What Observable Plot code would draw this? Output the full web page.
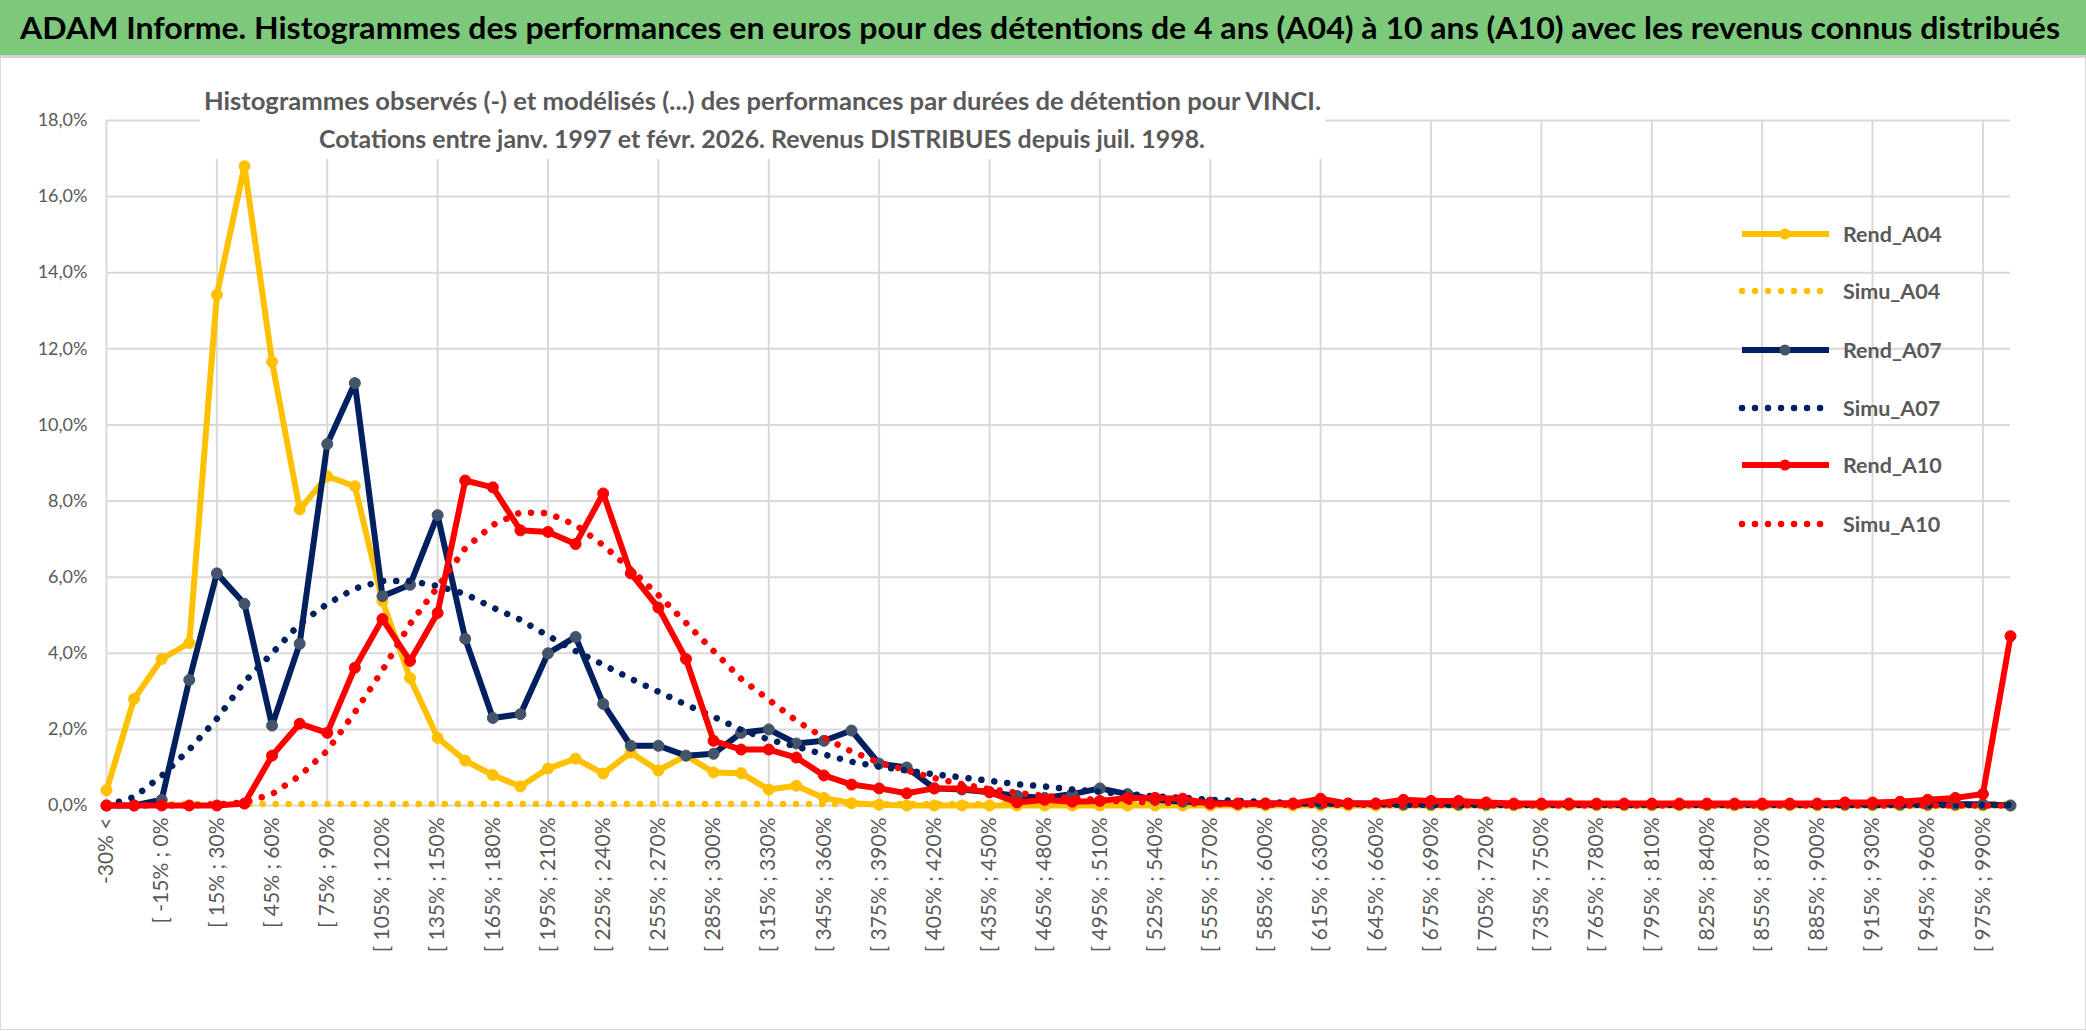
<!DOCTYPE html>
<html><head><meta charset="utf-8">
<script src="https://cdn.jsdelivr.net/npm/d3@7"></script>
<script src="https://cdn.jsdelivr.net/npm/@observablehq/plot@0.6"></script>
<style>
html,body{margin:0;padding:0;background:#fff;}
#wrap{position:relative;width:2086px;height:1031px;overflow:hidden;font-family:Lato,"Open Sans",sans-serif;background:#fff;}
#title{position:absolute;left:0;top:0;width:2086px;height:55px;background:#7dc97c;border-bottom:3px solid #d4d4d4;}
.fit{position:absolute;white-space:nowrap;display:inline-block;transform-origin:left center;line-height:1;}
#t1{left:20px;top:12px;font-size:30px;font-weight:bold;color:#000;}
#subbox{position:absolute;left:200px;top:80px;width:1125px;height:79px;background:#fff;}
#s1{font-size:25px;font-weight:bold;color:#595959;}
#s2{font-size:25px;font-weight:bold;color:#595959;}
#chart{position:absolute;left:0;top:58px;}
#frame{position:absolute;left:0;top:58px;width:2084px;height:971px;border:1px solid #d9d9d9;border-top:none;pointer-events:none;}
#legend{position:absolute;left:0;top:0;pointer-events:none;}
</style>
</head><body>
<div id="wrap">
  <div id="chart"></div>
  <div id="frame"></div>
  <div id="title"><span id="t1" class="fit" data-w="2040">ADAM Informe. Histogrammes des performances en euros pour des détentions de 4 ans (A04) à 10 ans (A10) avec les revenus connus distribués</span></div>
  <div id="subbox">
    <span id="s1" class="fit" data-w="1117" data-cx="562" data-cy="20">Histogrammes observés (-) et modélisés (...) des performances par durées de détention pour VINCI.</span>
    <span id="s2" class="fit" data-w="886" data-cx="562" data-cy="58">Cotations entre janv. 1997 et févr. 2026. Revenus DISTRIBUES depuis juil. 1998.</span>
  </div>
  <svg id="legend" width="2086" height="1031"></svg>
</div>
<script>
const categories = ["-30% <","[ -30% ; -15%","[ -15% ; 0%","[ 0% ; 15%","[ 15% ; 30%","[ 30% ; 45%","[ 45% ; 60%","[ 60% ; 75%","[ 75% ; 90%","[ 90% ; 105%",
"[ 105% ; 120%","[ 120% ; 135%","[ 135% ; 150%","[ 150% ; 165%","[ 165% ; 180%","[ 180% ; 195%","[ 195% ; 210%","[ 210% ; 225%","[ 225% ; 240%","[ 240% ; 255%",
"[ 255% ; 270%","[ 270% ; 285%","[ 285% ; 300%","[ 300% ; 315%","[ 315% ; 330%","[ 330% ; 345%","[ 345% ; 360%","[ 360% ; 375%","[ 375% ; 390%","[ 390% ; 405%",
"[ 405% ; 420%","[ 420% ; 435%","[ 435% ; 450%","[ 450% ; 465%","[ 465% ; 480%","[ 480% ; 495%","[ 495% ; 510%","[ 510% ; 525%","[ 525% ; 540%","[ 540% ; 555%",
"[ 555% ; 570%","[ 570% ; 585%","[ 585% ; 600%","[ 600% ; 615%","[ 615% ; 630%","[ 630% ; 645%","[ 645% ; 660%","[ 660% ; 675%","[ 675% ; 690%","[ 690% ; 705%",
"[ 705% ; 720%","[ 720% ; 735%","[ 735% ; 750%","[ 750% ; 765%","[ 765% ; 780%","[ 780% ; 795%","[ 795% ; 810%","[ 810% ; 825%","[ 825% ; 840%","[ 840% ; 855%",
"[ 855% ; 870%","[ 870% ; 885%","[ 885% ; 900%","[ 900% ; 915%","[ 915% ; 930%","[ 930% ; 945%","[ 945% ; 960%","[ 960% ; 975%","[ 975% ; 990%","990% >"];

const rendA04 = [0.4,2.8,3.85,4.27,13.42,16.8,11.66,7.78,8.65,8.39,
5.37,3.35,1.78,1.18,0.8,0.5,0.97,1.23,0.84,1.39,
0.92,1.31,0.87,0.85,0.42,0.52,0.2,0.06,0.02,0,
0,0,0,0,0,0,0,0,0,0,
0,0,0,0,0,0,0,0,0,0,
0,0,0,0,0,0,0,0,0,0,
0,0,0,0,0,0,0,0,0,0];
const simuA04 = [0.04,0.04,0.04,0.04,0.04,0.04,0.04,0.04,0.04,0.04,
0.04,0.04,0.04,0.04,0.04,0.04,0.04,0.04,0.04,0.04,
0.04,0.04,0.04,0.04,0.04,0.04,0.04,0.04,0.04,0.04,
0.04,0.04,0.04,0.04,0.04,0.04,0.04,0.04,0.04,0.04,
0.04,0.04,0.04,0.04,0.04,0.04,0.04,0.04,0.04,0.04,
0.04,0.04,0.04,0.04,0.04,0.04,0.04,0.04,0.04,0.04,
0.04,0.04,0.04,0.04,0.04,0.04,0.04,0.04,0.04,0.04];
const rendA07 = [0,0,0.15,3.3,6.1,5.3,2.1,4.25,9.5,11.1,
5.5,5.8,7.63,4.38,2.3,2.4,4.0,4.43,2.67,1.57,
1.57,1.31,1.36,1.91,2.0,1.63,1.7,1.97,1.1,1.0,
0.45,0.42,0.35,0.25,0.2,0.3,0.45,0.3,0.15,0.1,
0.08,0.05,0.05,0.05,0.05,0.05,0.05,0.03,0.03,0.03,
0.03,0.03,0.03,0.03,0.03,0.03,0.03,0.03,0.03,0.03,
0.03,0.03,0.03,0.03,0.03,0.03,0.03,0.03,0.03,0];
const simuA07 = [0,0.22,0.78,1.47,2.28,3.25,4.0,4.77,5.3,5.7,
5.9,5.9,5.77,5.56,5.2,4.88,4.46,4.06,3.7,3.33,
2.99,2.65,2.33,1.99,1.73,1.55,1.34,1.15,1.02,0.92,
0.82,0.74,0.65,0.56,0.5,0.42,0.36,0.3,0.24,0.2,
0.15,0.12,0.09,0.07,0.05,0.04,0.03,0.02,0.02,0.01,
0.01,0.01,0.01,0.01,0.01,0.01,0.01,0.01,0.01,0.01,
0.01,0.01,0.01,0.01,0.01,0.01,0.01,0.01,0.01,0.01];
const rendA10 = [0,0,0,0,0,0.05,1.31,2.15,1.91,3.62,
4.9,3.8,5.06,8.54,8.36,7.23,7.19,6.87,8.2,6.1,
5.2,3.85,1.7,1.47,1.47,1.26,0.79,0.55,0.45,0.32,
0.45,0.45,0.35,0.08,0.15,0.1,0.12,0.2,0.2,0.18,
0.05,0.05,0.05,0.05,0.18,0.05,0.05,0.15,0.12,0.12,
0.08,0.05,0.05,0.05,0.05,0.05,0.05,0.05,0.05,0.05,
0.05,0.05,0.05,0.08,0.08,0.1,0.15,0.2,0.3,4.45];
const simuA10 = [0,0,0,0,0.03,0.08,0.3,0.78,1.44,2.45,
3.55,4.77,5.74,6.76,7.37,7.7,7.68,7.37,6.84,6.2,
5.53,4.8,4.06,3.33,2.78,2.23,1.78,1.42,1.13,0.92,
0.72,0.56,0.43,0.33,0.25,0.19,0.14,0.1,0.08,0.06,
0.04,0.03,0.02,0.02,0.01,0.01,0.01,0.01,0.01,0.01,
0,0,0,0,0,0,0,0,0,0,
0,0,0,0,0,0,0,0,0,0];

const yTicks = [0,2,4,6,8,10,12,14,16,18];
const seriesNames = ["Rend_A04","Simu_A04","Rend_A07","Simu_A07","Rend_A10","Simu_A10"];

const YELLOW = "#FFC000", NAVY = "#002060", NAVYDOT = "#44546A", RED = "#FF0000";
const series = [
  {name: seriesNames[0], vals: rendA04, color: YELLOW, marker: YELLOW, dotted: false},
  {name: seriesNames[1], vals: simuA04, color: YELLOW, dotted: true},
  {name: seriesNames[2], vals: rendA07, color: NAVY, marker: NAVYDOT, dotted: false},
  {name: seriesNames[3], vals: simuA07, color: NAVY, dotted: true},
  {name: seriesNames[4], vals: rendA10, color: RED, marker: RED, dotted: false},
  {name: seriesNames[5], vals: simuA10, color: RED, dotted: true}
];
const idx = d3.range(categories.length);
const table = vals => idx.map(i => ({i, v: vals[i]}));
const labelIdx = idx.filter(i => i % 2 === 0);
const gridIdx = idx.filter(i => i % 4 === 0);
const fmt = d => d.toFixed(1).replace(".", ",") + "%";

const marks = [
  Plot.gridY(yTicks, {stroke: "#d9d9d9", strokeOpacity: 1, strokeWidth: 2}),
  Plot.gridX(gridIdx, {stroke: "#d9d9d9", strokeOpacity: 1, strokeWidth: 2}),
  Plot.axisY(yTicks, {tickSize: 0, tickPadding: 19, fontSize: 18, tickFormat: fmt, label: null, fill: "#595959"}),
  Plot.axisX(labelIdx, {tickSize: 0, tickPadding: 12, fontSize: 21, tickRotate: -90, tickFormat: i => categories[i], label: null, fill: "#595959"})
];
for (const s of series) {
  const data = table(s.vals);
  if (s.dotted) {
    marks.push(Plot.line(data, {x: "i", y: "v", stroke: s.color, strokeWidth: 6.5, strokeDasharray: "0.01 13", strokeLinecap: "round"}));
  } else {
    marks.push(Plot.line(data, {x: "i", y: "v", stroke: s.color, strokeWidth: 6, strokeLinejoin: "round"}));
    marks.push(Plot.dot(data, {x: "i", y: "v", r: 5.5, fill: s.marker, stroke: s.marker, strokeWidth: 1}));
  }
}

const chart = Plot.plot({
  width: 2086, height: 973,
  marginLeft: 106, marginRight: 76, marginTop: 62, marginBottom: 226,
  x: {type: "linear", domain: [0, categories.length - 1], axis: null},
  y: {domain: [0, 18], axis: null},
  style: {fontFamily: "Lato, 'Open Sans', sans-serif", color: "#595959", background: "transparent", overflow: "visible"},
  marks
});
document.getElementById("chart").appendChild(chart);

// legend
const lg = d3.select("#legend");
const legY = [234, 291, 350, 408, 465, 524];
series.forEach((s, k) => {
  const y = legY[k];
  const g = lg.append("g");
  const ln = g.append("line").attr("x1", 1742).attr("x2", 1829).attr("y1", y).attr("y2", y)
    .attr("stroke", s.color).attr("stroke-width", s.dotted ? 6.5 : 6);
  if (s.dotted) ln.attr("stroke-dasharray", "0.01 13").attr("stroke-linecap", "round");
  else g.append("circle").attr("cx", 1785).attr("cy", y).attr("r", 5.5).attr("fill", s.marker);
  g.append("text").attr("x", 1843).attr("y", y).attr("dy", "0.35em").attr("fill", "#595959")
    .attr("font-size", 21.5).attr("font-weight", "bold").attr("font-family", "Lato, 'Open Sans', sans-serif").text(s.name);
});

// fit text widths
function fit() {
  document.querySelectorAll(".fit").forEach(el => {
    el.style.transform = "none";
    const w = el.getBoundingClientRect().width;
    const h = el.getBoundingClientRect().height;
    const target = +el.dataset.w;
    const k = target / w;
    if (el.dataset.cx) {
      el.style.left = (+el.dataset.cx - target / 2) + "px";
      el.style.top = (+el.dataset.cy - h / 2) + "px";
    }
    el.style.transform = `scaleX(${k})`;
  });
}
fit();
if (document.fonts && document.fonts.ready) document.fonts.ready.then(fit);
</script>
</body></html>
